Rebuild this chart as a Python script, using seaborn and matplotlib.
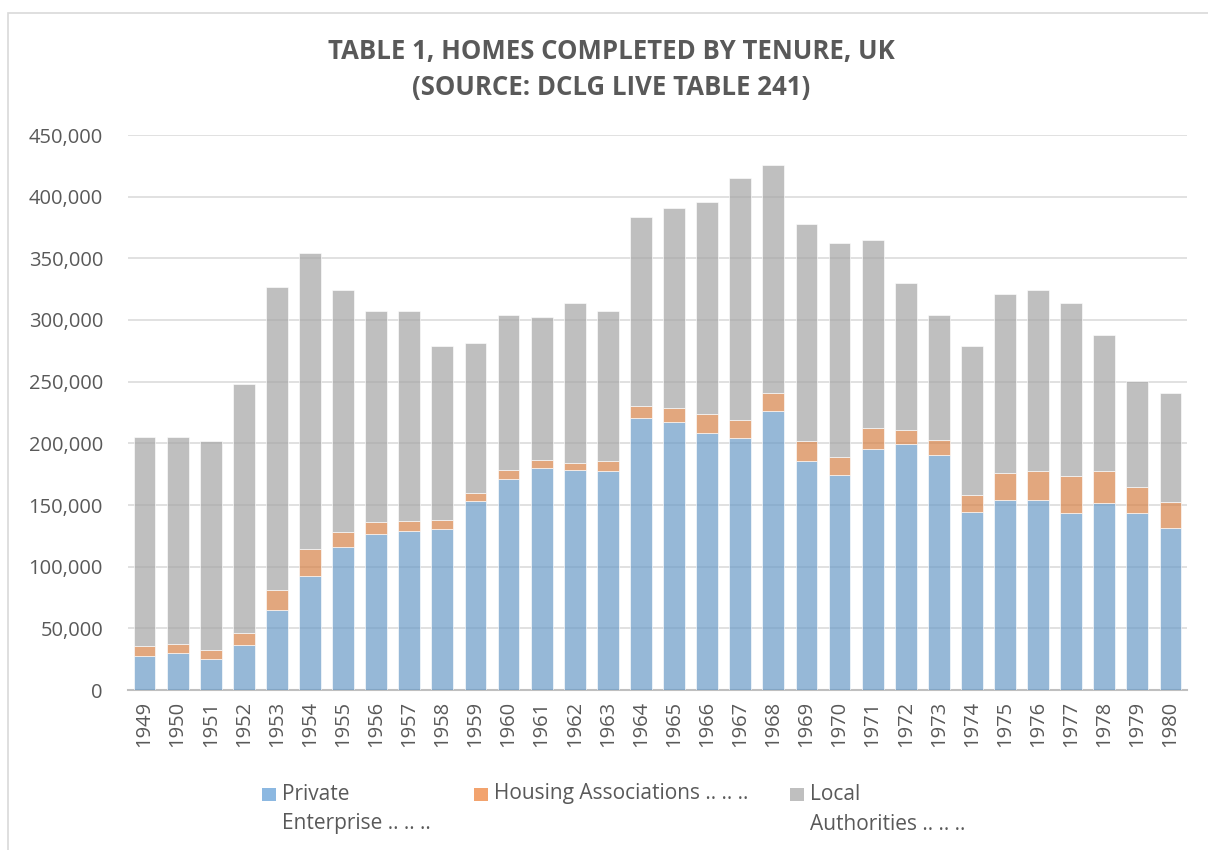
import matplotlib
matplotlib.use("Agg")
import matplotlib.pyplot as plt
from matplotlib.patches import Rectangle
from matplotlib.ticker import FuncFormatter, MultipleLocator
import seaborn as sns
import numpy as np

years = [str(y) for y in range(1949, 1981)]
private = [27.8, 29.7, 25.1, 36.2, 64.6, 92.2, 115.7, 126.2, 128.7, 130.3, 153.0,
           171.1, 180.2, 178.3, 177.7, 220.9, 217.2, 208.4, 204.1, 226.0, 185.6,
           174.0, 195.4, 199.8, 190.6, 144.3, 154.1, 154.3, 143.3, 151.4, 143.3, 131.4]
private_plus_ha = [35.9, 37.0, 32.4, 46.5, 81.4, 114.0, 128.4, 135.9, 137.0, 138.1, 159.5,
                   178.5, 186.8, 184.2, 185.4, 230.6, 228.9, 223.5, 219.2, 241.1, 202.1,
                   189.3, 212.2, 211.1, 202.5, 158.4, 176.0, 177.3, 173.8, 177.6, 164.6, 152.4]
total = [204.9, 205.0, 201.6, 248.1, 326.5, 354.0, 324.3, 307.6, 307.3, 278.6, 281.3,
         304.2, 302.8, 313.6, 307.6, 383.2, 391.2, 395.7, 415.4, 425.6, 378.1,
         362.2, 364.5, 330.3, 304.1, 279.0, 321.4, 324.1, 313.5, 287.9, 250.8, 240.8]

private_v = np.array(private) * 1000
housing_v = (np.array(private_plus_ha) - np.array(private)) * 1000
local_v = (np.array(total) - np.array(private_plus_ha)) * 1000

series_names = ["Private\nEnterprise .. .. ..", "Housing Associations .. .. ..", "Local\nAuthorities .. .. .."]
colors = ["#5B9BD5", "#ED7D31", "#A5A5A5"]
alpha = 0.7
text_color = "#595959"

sns.set_theme(style="white")
plt.rcParams['font.family'] = ['Open Sans', 'DejaVu Sans']

fig = plt.figure(figsize=(12.08, 8.5), dpi=100)
ax = fig.add_axes([128 / 1208, 1 - 690 / 850, (1187 - 128) / 1208, (690 - 135) / 850])

bottoms = [np.zeros(len(years)), private_v, private_v + housing_v]
values = [private_v, housing_v, local_v]
for vals, bot, col in zip(values, bottoms, colors):
    sns.barplot(x=years, y=vals, bottom=bot, color=col, alpha=alpha, width=0.66,
                edgecolor="white", linewidth=0.6, ax=ax, zorder=3)

ax.set_ylim(0, 450000)
ax.set_xlim(-0.5, len(years) - 0.5)
ax.yaxis.set_major_locator(MultipleLocator(50000))
ax.yaxis.set_major_formatter(FuncFormatter(lambda v, p: f"{int(v):,}"))
ax.grid(axis="y", color="#D9D9D9", linewidth=1.1, zorder=0)
ax.set_axisbelow(True)
for s in ["top", "right", "left"]:
    ax.spines[s].set_visible(False)
ax.spines["bottom"].set_color("#BFBFBF")
ax.spines["bottom"].set_linewidth(1.5)
ax.tick_params(axis="y", length=0, labelsize=14.5, labelcolor=text_color, pad=18)
ax.tick_params(axis="x", length=0, labelsize=14.5, labelcolor=text_color, pad=8, rotation=90)
ax.set_xlabel("")
ax.set_ylabel("")

# Title
fig.text(611 / 1208, 1 - 52 / 850, "TABLE 1, HOMES COMPLETED BY TENURE, UK", ha="center", va="center",
         fontsize=18.5, fontweight="bold", color=text_color)
fig.text(611 / 1208, 1 - 87 / 850, "(SOURCE: DCLG LIVE TABLE 241)", ha="center", va="center",
         fontsize=18.5, fontweight="bold", color=text_color)

# Chart border
fig.patches.append(Rectangle((8 / 1208, -0.1), 1.2, 1.1 - 13 / 850, transform=fig.transFigure,
                             fill=False, edgecolor="#D9D9D9", linewidth=1.2))

# Legend (manual, handles aligned to first text line)
leg_x = [262, 474, 790]
for name, col, lx in zip(series_names, colors, leg_x):
    fig.patches.append(Rectangle((lx / 1208, 1 - 801 / 850), 13.5 / 1208, 13.5 / 850,
                                 transform=fig.transFigure, facecolor=col, alpha=alpha,
                                 edgecolor="none"))
    lines = name.split("\n")
    for i, line in enumerate(lines):
        fig.text((lx + 20) / 1208, 1 - (794 + 30 * i) / 850, line, ha="left", va="center",
                 fontsize=15, color=text_color)

fig.savefig("out.png", dpi=100)
